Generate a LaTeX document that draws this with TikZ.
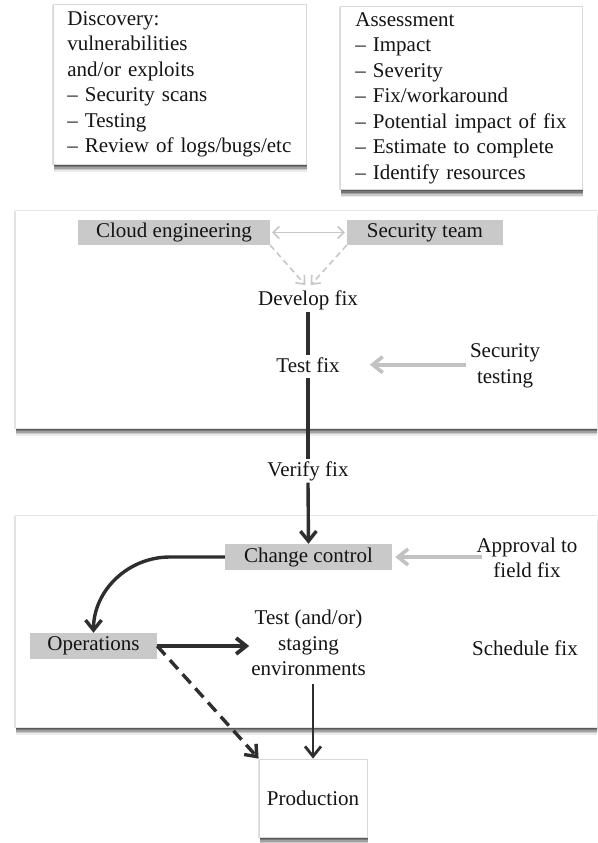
\documentclass[tikz,border=0pt]{standalone}
\usepackage{fontspec}
\setmainfont{Liberation Serif}
\usetikzlibrary{arrows.meta,shadows}
\begin{document}
\begin{tikzpicture}[x=1pt,y=-1pt,
  base/.style={font=\fontsize{21}{25.5}\selectfont, text=black!92},
  card/.style={draw=black!15, line width=0.8pt, fill=white,
    drop shadow={shadow xshift=-1.2pt,shadow yshift=-0.5pt,opacity=.12,fill=black},
    drop shadow={shadow xshift=1pt,shadow yshift=-1.5pt,opacity=.25,fill=black},
    drop shadow={shadow xshift=1pt,shadow yshift=-3pt,opacity=.25,fill=black},
    drop shadow={shadow xshift=1pt,shadow yshift=-4.5pt,opacity=.2,fill=black},
    drop shadow={shadow xshift=1pt,shadow yshift=-6pt,opacity=.14,fill=black},
    drop shadow={shadow xshift=1pt,shadow yshift=-7.5pt,opacity=.08,fill=black}},
  panel/.style={card, draw=black!10, minimum width=620pt, anchor=north west, inner sep=0pt},
  graybox/.style={base, fill=black!21, inner sep=0pt, minimum height=25pt},
  lbl/.style={base, inner sep=2pt, align=center},
  listbox/.style={card, base, anchor=north west, align=left, inner ysep=7pt},
  darkline/.style={draw=black!82, line width=3.4pt},
  darkarrow/.style={darkline, -{Straight Barb[length=10pt,width=16pt]}},
  lightarrow/.style={draw=black!24, line width=3.6pt, -{Straight Barb[length=10pt,width=16pt]}},
  lightdash/.style={draw=black!22, line width=1.6pt, dash pattern=on 6pt off 4pt, -{Straight Barb[length=7pt,width=12pt]}},
  lightthin/.style={draw=black!22, line width=1.6pt, {Straight Barb[length=6pt,width=12pt]}-{Straight Barb[length=6pt,width=12pt]}}
]
\useasboundingbox (0,0) rectangle (597,843);
\clip (0,0) rectangle (597,843);
\fill[white] (0,0) rectangle (597,843);

% top cards
\node[listbox, inner xsep=14pt, text width=225pt] (disc) at (53,4)
  {Discovery:\\vulnerabilities\\and/or exploits\\– Security scans\\– Testing\\– Review of logs/bugs/etc};
\node[listbox, inner xsep=15pt, text width=212pt, inner ysep=6pt] (assess) at (340,6)
  {Assessment\\– Impact\\– Severity\\– Fix/workaround\\– Potential impact of fix\\– Estimate to complete\\– Identify resources};

% panels
\node[panel, minimum height=218pt] (panelA) at (15,210) {};
\node[panel, minimum height=212pt] (panelB) at (15,515) {};

% panel A content
\node[graybox, minimum width=192pt] (cloud) at (174,232.5) {Cloud engineering};
\node[graybox, minimum width=156pt] (sec) at (425,232.5) {Security team};
\node[lbl, anchor=base] (dev) at (308,305) {Develop fix};
\node[lbl, anchor=base] (test) at (308,372) {Test fix};
\node[lbl] (sectest) at (505,366) {Security\\testing};

% between panels
\node[lbl, anchor=base] (verify) at (308,476) {Verify fix};

% panel B content
\node[graybox, minimum width=167pt, minimum height=26pt] (cc) at (308.5,557) {Change control};
\node[lbl] (approval) at (527,558) {Approval to\\field fix};
\node[graybox, minimum width=127pt, minimum height=26pt] (ops) at (93.5,646) {Operations};
\node[lbl] (testenv) at (308.5,643) {Test (and/or)\\staging\\environments};
\node[lbl] (schedule) at (525,648) {Schedule fix};

% production
\node[card, base, minimum width=108pt, minimum height=78pt] (prod) at (313,798) {Production};

% connectors
\draw[lightthin, shorten <=2pt, shorten >=2pt] (cloud.east) -- (sec.west);
\draw[lightdash, shorten >=4pt] (cloud.south east) -- (dev.north);
\draw[lightdash, shorten >=4pt] (sec.south west) -- (dev.north);
\draw[darkline] (dev.south) -- (test.north);
\draw[darkline, shorten <=4pt] (test.south) -- (verify.north);
\draw[darkarrow] (verify.south) -- (cc.north);
\draw[lightarrow, shorten <=2pt, shorten >=28pt] (sectest.west |- test.east) -- (test.east);
\draw[lightarrow, shorten <=-8pt, shorten >=3pt] (approval.west |- cc.east) -- (cc.east);
\draw[darkarrow] (cc.west) -- ++(-55,0) to[out=180,in=90] (ops.north);
\draw[darkarrow, line width=3.8pt] (ops.east) -- (ops.east -| testenv.west);
\draw[darkarrow, line width=2.8pt, shorten <=6pt] (prod.north |- testenv.south) -- (prod.north);
\draw[darkarrow, dash pattern=on 12pt off 7pt] (ops.east) -- (prod.north west);
\end{tikzpicture}
\end{document}
